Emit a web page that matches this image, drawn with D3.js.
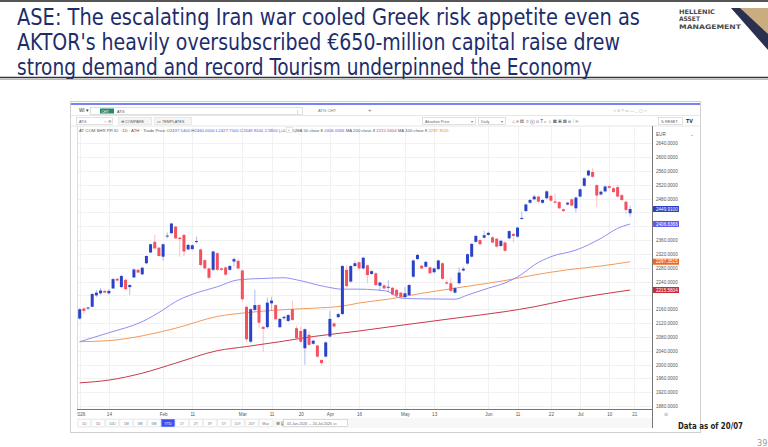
<!DOCTYPE html>
<html>
<head>
<meta charset="utf-8">
<script src="https://cdn.jsdelivr.net/npm/d3@7"></script>
<style>
  body { margin: 0; background: #fff; }
  svg { display: block; }
  text { font-family: "Liberation Sans", Arial, sans-serif; }
</style>
</head>
<body>
<svg id="slide" width="768" height="447"></svg>
<script>
// slide title
const titleLines = [
  "ASE: The escalating Iran war cooled Greek risk appetite even as",
  "AKTOR's heavily oversubscribed €650-million capital raise drew",
  "strong demand and record Tourism underpinned the Economy"
];

// time axis (index of trading day -> label)
const tickIndex = [0, 7, 20, 27, 39, 46, 53, 60, 67, 78, 85, 98, 105, 113, 120, 127, 133];
const tickLabels = ["2026", "14", "Feb", "11", "Mar", "11", "20", "Apr", "16", "May", "13", "Jun", "11", "22", "Jul", "10", "21"];

// price axis
const priceTicks = [1880, 1920, 1960, 2000, 2040, 2080, 2120, 2160, 2200, 2240, 2280, 2320, 2360, 2400, 2440, 2480, 2520, 2560, 2600, 2640];

// daily candles, ATG, 02-Jan-2026 .. 20-Jul-2026
const open = [2133,2162,2162,2167,2200,2206,2213,2206,2220,2248,2224,2245,2224,2252,2274,2261,2293,2324,2355,2338,
  2312,2371,2380,2399,2367,2375,2333,2334,2355,2333,2302,2278,2274,2322,2278,2281,2274,2298,2300,2272,
  2167,2066,2158,2172,2109,2108,2177,2172,2108,2134,2126,2160,2105,2097,2047,2086,2060,2055,2013,2023,
  2081,2119,2137,2146,2274,2240,2285,2296,2278,2287,2262,2264,2228,2229,2224,2222,2216,2208,2195,2201,
  2254,2305,2286,2283,2281,2267,2276,2293,2238,2235,2208,2235,2272,2292,2312,2355,2360,2367,2375,2368,
  2364,2343,2353,2365,2378,2370,2422,2444,2468,2478,2486,2468,2481,2488,2472,2470,2449,2463,2478,2452,
  2486,2517,2547,2557,2519,2492,2501,2516,2510,2513,2490,2471,2437.54];
const high = [2163,2166,2167,2207,2216,2221,2217,2218,2251,2251,2260,2248,2232,2278,2277,2283,2316,2350,2375,2341,
  2350,2382,2410,2401,2370,2378,2350,2348,2370,2336,2305,2281,2330,2325,2281,2284,2288,2310,2307,2275,
  2170,2163,2216,2175,2112,2193,2196,2175,2135,2141,2146,2185,2112,2110,2105,2096,2072,2058,2016,2067,
  2155,2122,2149,2288,2288,2288,2300,2299,2312,2290,2273,2267,2240,2232,2244,2225,2219,2211,2224,2233,
  2304,2320,2289,2300,2284,2281,2304,2296,2245,2252,2224,2281,2283,2322,2352,2375,2363,2387,2384,2371,
  2367,2361,2356,2389,2381,2399,2442,2466,2479,2491,2489,2479,2504,2491,2495,2473,2452,2471,2481,2486,
  2510,2542,2564,2568,2522,2503,2518,2520,2513,2520,2493,2474,2460];
const low = [2130,2146,2158,2165,2195,2201,2206,2203,2218,2240,2220,2215,2201,2250,2264,2258,2290,2322,2333,2312,
  2300,2365,2378,2363,2312,2313,2330,2331,2350,2285,2275,2246,2270,2270,2271,2256,2271,2283,2275,2183,
  2066,2063,2154,2105,2037,2104,2158,2128,2105,2128,2123,2126,2073,2063,1999,2054,2057,2020,1998,2020,
  2078,2107,2134,2143,2224,2237,2282,2272,2275,2235,2259,2227,2213,2217,2210,2200,2196,2193,2192,2198,
  2251,2302,2275,2280,2261,2264,2273,2245,2231,2210,2205,2232,2269,2289,2309,2352,2345,2364,2372,2350,
  2338,2340,2326,2362,2353,2367,2418,2441,2465,2475,2468,2465,2478,2471,2465,2449,2441,2460,2457,2440,
  2483,2514,2544,2540,2457,2489,2498,2508,2496,2483,2473,2435,2427.75];
const close = [2160,2155,2165,2204,2208,2214,2208,2213,2247,2243,2256,2218,2230,2275,2266,2280,2314,2348,2336,2314,
  2348,2373,2408,2365,2363,2327,2346,2345,2357,2288,2278,2251,2327,2274,2274,2260,2285,2305,2278,2189,
  2073,2160,2172,2121,2103,2179,2185,2131,2132,2138,2143,2129,2076,2066,2102,2057,2069,2023,2004,2064,
  2132,2110,2146,2285,2227,2285,2293,2278,2309,2259,2270,2230,2237,2220,2225,2203,2199,2196,2206,2230,
  2301,2317,2278,2297,2264,2278,2301,2248,2234,2213,2221,2266,2277,2319,2349,2372,2348,2374,2381,2353,
  2341,2358,2329,2386,2372,2396,2424,2463,2476,2486,2471,2476,2501,2474,2468,2452,2444,2468,2460,2483,
  2507,2539,2561,2543,2489,2500,2515,2511,2499,2486,2476,2447.33,2449.91];

// moving averages (day index -> value)
const ma50Idx = [0, 7, 15, 20, 23, 27, 33, 38, 44, 49, 52, 59, 63, 67, 71, 74, 77, 82, 90, 93, 98, 102, 106, 109, 113, 119, 125, 129, 132];
const ma50 = [2066, 2092, 2124, 2158, 2182, 2203, 2225, 2245, 2249, 2251, 2245, 2225, 2218, 2218, 2216, 2211, 2192, 2190, 2189, 2201, 2221, 2236, 2261, 2288, 2312, 2331, 2365, 2394, 2406.64];
const ma100Idx = [0, 7, 15, 23, 33, 40, 48, 56, 63, 67, 74, 82, 90, 102, 109, 117, 125, 132];
const ma100 = [2066, 2069, 2083, 2105, 2139, 2150, 2158, 2163, 2169, 2178, 2189, 2206, 2221, 2243, 2259, 2274, 2285, 2297.35];
const ma200Idx = [0, 7, 15, 23, 33, 40, 48, 56, 67, 78, 90, 102, 109, 117, 125, 132];
const ma200 = [1947, 1955, 1975, 2004, 2040, 2052, 2066, 2081, 2097, 2115, 2134, 2153, 2167, 2187, 2203, 2215.56];

const rangeButtons = ["1D", "5D", "10D", "1M", "3M", "6M", "YTD", "1Y", "2Y", "3Y", "5Y", "10Y", "20Y", "Max"];

const UP = "#2b42c6", DOWN = "#f4505f";
const svg = d3.select("#slide");
const defs = svg.append("defs");

// ---------- slide header ----------
svg.append("rect").attr("x", 0).attr("y", 0).attr("width", 768).attr("height", 2).attr("fill", "#555");
svg.selectAll(".title").data(titleLines).enter().append("text")
  .attr("class", "title")
  .attr("x", 17)
  .attr("y", (d, i) => 25 + i * 25)
  .attr("textLength", (d, i) => [623, 603, 575][i])
  .attr("lengthAdjust", "spacingAndGlyphs")
  .style("font-family", "'DejaVu Sans Condensed', 'Liberation Sans Narrow', sans-serif")
  .style("font-size", "23px")
  .attr("fill", "#1d2d6b")
  .text(d => d);
svg.append("line").attr("x1", 0).attr("x2", 768).attr("y1", 77.5).attr("y2", 77.5).attr("stroke", "#333").attr("stroke-width", 1.5);
svg.append("line").attr("x1", 0).attr("x2", 768).attr("y1", 79.5).attr("y2", 79.5).attr("stroke", "#bbb").attr("stroke-width", 1);

// logo
const logo = svg.append("g");
[["HELLENIC", 36], ["ASSET", 21], ["MANAGEMENT", 62]].forEach((t, i) => {
  logo.append("text").attr("x", 679).attr("y", 14 + i * 7.4)
    .attr("textLength", t[1]).attr("lengthAdjust", "spacingAndGlyphs")
    .style("font-family", "'DejaVu Sans Condensed', sans-serif").style("font-size", "6.3px").style("font-weight", "bold")
    .attr("fill", "#4a4a4a").text(t[0]);
});
logo.append("path").attr("d", "M731,8 L768,8 L768,40 Z").attr("fill", "#c9ad80");
logo.append("path").attr("d", "M731,8 L740,8 L768,34 L768,50 Z").attr("fill", "#2a3150");

// ---------- chart window ----------
svg.append("rect").attr("x", 70.5).attr("y", 101.5).attr("width", 630).attr("height", 331)
  .attr("fill", "#fff").attr("stroke", "#d0d0d0");
svg.append("line").attr("x1", 71).attr("x2", 700).attr("y1", 104).attr("y2", 104).attr("stroke", "#4d5bef").attr("stroke-width", 1.6);

const tiny = (x, y, t, size, color, anchor) => svg.append("text").attr("x", x).attr("y", y)
  .attr("text-anchor", anchor || "start").style("font-size", (size || 4.6) + "px").attr("fill", color || "#555").text(t);

// toolbar row 1
tiny(79, 112, "WI ▾", 4.6, "#333");
svg.append("rect").attr("x", 90.5).attr("y", 107.5).attr("width", 212).attr("height", 7).attr("fill", "#fff").attr("stroke", "#ccc").attr("stroke-width", 0.6);
svg.append("rect").attr("x", 100).attr("y", 108.5).attr("width", 14).attr("height", 5).attr("fill", "#1d8c6c");
tiny(101.5, 112.5, "CHT", 3.6, "#fff");
tiny(117, 112.5, "ATG", 3.8, "#444");
tiny(297, 112.5, "|", 3.8, "#888");
tiny(318, 112, "ATG CHT", 4.2, "#777");
tiny(368, 112, "+", 6, "#777");
tiny(613, 112, "⬀  ⊙  ?  ▭  —  _  ▢  ×", 4.2, "#999");
svg.append("line").attr("x1", 71).attr("x2", 700).attr("y1", 115.5).attr("y2", 115.5).attr("stroke", "#e6e6e6");

// toolbar row 2
svg.append("rect").attr("x", 76.5).attr("y", 117.5).attr("width", 36).attr("height", 7).attr("fill", "#fff").attr("stroke", "#ccc").attr("stroke-width", 0.6);
tiny(79, 122.5, "ATG", 3.8, "#555");
tiny(104, 122.5, "○ ⚙", 4, "#777");
svg.append("rect").attr("x", 118.5).attr("y", 117.5).attr("width", 33).attr("height", 7).attr("fill", "#f5f5f5").attr("stroke", "#ddd").attr("stroke-width", 0.6);
tiny(121, 122.5, "⊕ COMPARE", 3.8, "#555");
svg.append("rect").attr("x", 154.5).attr("y", 117.5).attr("width", 37).attr("height", 7).attr("fill", "#f5f5f5").attr("stroke", "#ddd").attr("stroke-width", 0.6);
tiny(157, 122.5, "▭  TEMPLATES", 3.8, "#555");
svg.append("rect").attr("x", 422.5).attr("y", 117.5).attr("width", 53).attr("height", 7).attr("fill", "#fff").attr("stroke", "#ccc").attr("stroke-width", 0.6);
tiny(425, 122.5, "Absolute Price", 3.8, "#666");
tiny(471, 122.5, "▾", 4, "#777");
svg.append("rect").attr("x", 478.5).attr("y", 117.5).attr("width", 27).attr("height", 7).attr("fill", "#fff").attr("stroke", "#ccc").attr("stroke-width", 0.6);
tiny(481, 122.5, "Daily", 3.8, "#666");
tiny(501, 122.5, "▾", 4, "#777");
tiny(512, 123, "⛬  ≡  ▤  ⌗  ⓢ  ⊡  T  ⌕  ○  ▦  ▣  ▥  ⊞  ⁞  ⊛", 4.6, "#555");
svg.append("rect").attr("x", 658.5).attr("y", 117.5).attr("width", 24).attr("height", 7).attr("fill", "#fff").attr("stroke", "#ccc").attr("stroke-width", 0.6);
tiny(661, 122.5, "↻ RESET", 3.8, "#555");
tiny(686, 123, "TV", 5.4, "#222").style("font-weight", "bold");
svg.append("line").attr("x1", 71).attr("x2", 700).attr("y1", 126).attr("y2", 126).attr("stroke", "#e6e6e6");

// ---------- price chart ----------
const plot = { left: 77, right: 652, top: 126, bottom: 409 };
const x = d3.scaleLinear().domain([0, 133]).range([79.7, 634.3]);
const y = d3.scaleLinear().domain([1880, 2640]).range([406, 143.3]);

defs.append("clipPath").attr("id", "timeclip").append("rect")
  .attr("x", plot.left).attr("y", plot.bottom).attr("width", plot.right - plot.left).attr("height", 10);

const grid = svg.append("g");
grid.selectAll(".hg").data(priceTicks).enter().append("line")
  .attr("x1", plot.left).attr("x2", plot.right)
  .attr("y1", d => Math.round(y(d)) + 0.5).attr("y2", d => Math.round(y(d)) + 0.5)
  .attr("stroke", "#f1f1f1");
grid.selectAll(".vg").data(tickIndex).enter().append("line")
  .attr("x1", d => Math.round(x(d)) + 0.5).attr("x2", d => Math.round(x(d)) + 0.5)
  .attr("y1", plot.top).attr("y2", plot.bottom)
  .attr("stroke", "#f1f1f1");
svg.append("line").attr("x1", plot.left + 0.5).attr("x2", plot.left + 0.5).attr("y1", plot.top).attr("y2", plot.bottom).attr("stroke", "#ddd");

// legend line
const legend = svg.append("text").attr("x", 79).attr("y", 131.5).style("font-size", "4.3px").attr("fill", "#555");
legend.append("tspan").text("AT COM SHR PR ID · 1D · ATH · Trade Price  O");
legend.append("tspan").attr("fill", "#4b5ae6").text("2437.5400");
legend.append("tspan").text(" H");
legend.append("tspan").attr("fill", "#4b5ae6").text("2460.0000");
legend.append("tspan").text(" L");
legend.append("tspan").attr("fill", "#4b5ae6").text("2427.7500");
legend.append("tspan").text(" C");
legend.append("tspan").attr("fill", "#4b5ae6").text("2449.9100  2.5800 (+0.11%)");
svg.append("rect").attr("x", 286.5).attr("y", 127.5).attr("width", 6).attr("height", 5).attr("fill", "#fff").attr("stroke", "#ccc").attr("stroke-width", 0.5);
tiny(288, 131.5, "‹", 4.3, "#555");
const legend2 = svg.append("text").attr("x", 296).attr("y", 131.5).style("font-size", "4.3px").attr("fill", "#555");
legend2.append("tspan").text("MA 50 close 8  ");
legend2.append("tspan").attr("fill", "#5a5af0").text("2406.6366");
legend2.append("tspan").text("   MA 200 close 8  ");
legend2.append("tspan").attr("fill", "#d23a48").text("2215.5604");
legend2.append("tspan").text("   MA 100 close 8  ");
legend2.append("tspan").attr("fill", "#f07a2a").text("2297.3515");

// moving averages
const maLine = (idx, vals, color) => svg.append("path")
  .datum(idx.map((d, i) => [d, vals[i]]))
  .attr("fill", "none").attr("stroke", color).attr("stroke-width", 1)
  .attr("d", d3.line().x(d => x(d[0])).y(d => y(d[1])).curve(d3.curveMonotoneX));
maLine(ma200Idx, ma200, "#c8394b");
maLine(ma100Idx, ma100, "#f39a5a");
maLine(ma50Idx, ma50, "#8f8ff5");

// candles
const candles = open.map((o, i) => ({ i, o, h: high[i], l: low[i], c: close[i] }));
const cg = svg.append("g");
cg.selectAll(".wick").data(candles).enter().append("line")
  .attr("x1", d => x(d.i)).attr("x2", d => x(d.i))
  .attr("y1", d => y(d.h)).attr("y2", d => y(d.l))
  .attr("stroke", d => d.c >= d.o ? UP : DOWN).attr("stroke-opacity", 0.45).attr("stroke-width", 0.8);
cg.selectAll(".body").data(candles).enter().append("rect")
  .attr("x", d => x(d.i) - 1.5).attr("width", 3)
  .attr("y", d => y(Math.max(d.o, d.c)))
  .attr("height", d => Math.max(1, Math.abs(y(d.o) - y(d.c))))
  .attr("fill", d => d.c >= d.o ? UP : DOWN);

// last value markers
const markers = [
  { v: close[close.length - 1], t: "2449.9100", c: "#2b42c6" },
  { v: ma50[ma50.length - 1], t: "2406.6366", c: "#5b5bf0" },
  { v: ma100[ma100.length - 1], t: "2297.3515", c: "#f0681f" },
  { v: ma200[ma200.length - 1], t: "2215.5604", c: "#c42c3c" }
];

// price axis (tick labels hidden where a marker sits on them)
svg.append("line").attr("x1", plot.right + 0.5).attr("x2", plot.right + 0.5).attr("y1", plot.top).attr("y2", 428).attr("stroke", "#777");
const shownTicks = priceTicks.filter(t => markers.every(m => Math.abs(y(t) - y(m.v)) > 5.5));
const yAxis = svg.append("g").attr("transform", `translate(${plot.right},0)`)
  .call(d3.axisRight(y).tickValues(shownTicks).tickSize(0).tickPadding(4).tickFormat(d3.format(".4f")));
yAxis.select(".domain").remove();
yAxis.selectAll("text").style("font-size", "4.6px").attr("fill", "#555");
tiny(656, 136, "EUR", 4.6, "#555");
tiny(690, 136, "⌄", 4.6, "#777");

markers.forEach(m => {
  svg.append("rect").attr("x", plot.right + 1).attr("y", y(m.v) - 3).attr("width", 26).attr("height", 6).attr("fill", m.c);
  tiny(plot.right + 4, y(m.v) + 1.6, m.t, 4.6, "#fff");
});

// time axis
svg.append("line").attr("x1", plot.left).attr("x2", plot.right).attr("y1", plot.bottom + 0.5).attr("y2", plot.bottom + 0.5).attr("stroke", "#777");
const xAxis = svg.append("g").attr("clip-path", "url(#timeclip)").append("g")
  .attr("transform", `translate(0,${plot.bottom})`)
  .call(d3.axisBottom(x).tickValues(tickIndex).tickSize(0).tickPadding(4).tickFormat((d, i) => tickLabels[i]));
xAxis.select(".domain").remove();
xAxis.selectAll("text").style("font-size", "4.6px").attr("fill", "#555");
tiny(666, 416, "⊙", 5, "#777", "middle");

// range buttons
svg.append("rect").attr("x", 77).attr("y", 418).attr("width", 575).attr("height", 10).attr("fill", "#f7f7f7");
const bx = d3.scaleBand().domain(rangeButtons).range([78, 272]).paddingInner(0.1);
rangeButtons.forEach(b => {
  const sel = b === "YTD";
  svg.append("rect").attr("x", bx(b)).attr("y", 419.5).attr("width", bx.bandwidth()).attr("height", 7)
    .attr("fill", sel ? "#3d4ff0" : "#fff").attr("stroke", sel ? "#3d4ff0" : "#e0e0e0").attr("stroke-width", 0.5);
  tiny(bx(b) + bx.bandwidth() / 2, 424.5, b, 3.6, sel ? "#fff" : "#777", "middle");
});
tiny(276, 425, "⊗ ▤", 4.6, "#555");
svg.append("rect").attr("x", 283.5).attr("y", 419.5).attr("width", 64).attr("height", 7).attr("fill", "#fff").attr("stroke", "#bbb").attr("stroke-width", 0.5);
tiny(287, 424.5, "02-Jan-2026  →  20-Jul-2026  ▭", 3.6, "#666");

// footer
svg.append("text").attr("x", 678).attr("y", 429).attr("textLength", 65).attr("lengthAdjust", "spacingAndGlyphs")
  .style("font-family", "'DejaVu Sans Condensed', sans-serif").style("font-size", "9px").style("font-weight", "bold")
  .attr("fill", "#222").text("Data as of 20/07");
svg.append("text").attr("x", 757).attr("y", 446).style("font-family", "'DejaVu Sans Condensed', sans-serif")
  .style("font-size", "9px").attr("fill", "#999").text("39");
</script>
</body>
</html>
